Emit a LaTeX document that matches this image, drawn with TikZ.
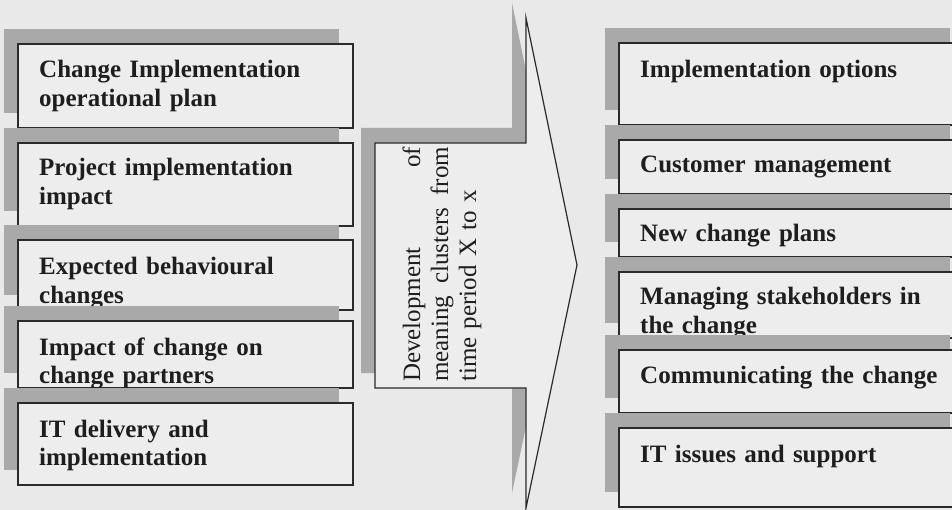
\documentclass[tikz,border=0pt]{standalone}
\usepackage{fontspec}
\setmainfont{Liberation Serif}
\definecolor{bgcol}{HTML}{E9E9E9}
\definecolor{boxcol}{HTML}{EDEDED}
\definecolor{shadecol}{HTML}{A9A9A9}
\definecolor{linecol}{HTML}{2A2A2A}
\definecolor{txtcol}{HTML}{1E1E1E}
\newcommand{\shbox}[5]{%
  \fill[shade] (#2-14,#3-15) rectangle ++(#4,#5);
  \node[cbox, minimum width=#4pt, minimum height=#5pt] (#1) at (#2,#3) {};
}
\newcommand{\jline}[1]{\leavevmode\hbox to 235pt{#1}}
\begin{document}
\begin{tikzpicture}[x=1pt,y=-1pt,
  cbox/.style={draw=linecol, line width=1.2pt, fill=boxcol, anchor=north west, inner sep=0pt, outer sep=0pt},
  shade/.style={fill=shadecol},
  lbl/.style={anchor=base west, inner sep=0pt, text width=320pt, align=left, text=txtcol,
    font=\fontsize{25}{28.5}\selectfont\bfseries},
  midtxt/.style={rotate=90, anchor=base west, inner sep=0pt, text width=240pt, align=left, text=txtcol,
    font=\fontsize{25}{28}\selectfont},
]
\clip (0,0) rectangle (952,510);
\fill[bgcol] (0,0) rectangle (952,510);

% left column
\shbox{L1}{18}{44}{335}{84}
\node[lbl] (L1t) at (39,78) {Change Implementation\\operational plan};
\shbox{L2}{18}{143}{335}{83}
\node[lbl] (L2t) at (39,176) {Project implementation\\impact};
\shbox{L3}{18}{240}{335}{70}
\node[lbl] (L3t) at (39,275) {Expected behavioural\\changes};
\shbox{L4}{18}{321}{335}{67}
\node[lbl] (L4t) at (39,355) {Impact of change on\\change partners};
\shbox{L5}{18}{403}{335}{82}
\node[lbl] (L5t) at (39,437) {IT delivery and\\implementation};

% middle arrow
\fill[shade] (361,128) -- (512,128) -- (512,3) -- (563,250) -- (512,493) -- (512,373) -- (361,373) -- cycle;
\draw[draw=linecol, line width=1.2pt, fill=boxcol, line join=miter]
  (375,143) -- (526,143) -- (526,18) -- (577,265) -- (526,508) -- (526,388) -- (375,388) -- cycle;
\node[midtxt] (mid) at (420,382) {\jline{Development\hfill of}\\\jline{meaning\hfill clusters\hfill from}\\time period X to x};

% right column
\shbox{R1}{619}{43}{345}{82}
\node[lbl] (R1t) at (640,78) {Implementation options};
\shbox{R2}{619}{140}{345}{54}
\node[lbl] (R2t) at (640,173) {Customer management};
\shbox{R3}{619}{209}{345}{48}
\node[lbl] (R3t) at (640,242) {New change plans};
\shbox{R4}{619}{272}{345}{66}
\node[lbl] (R4t) at (640,305) {Managing stakeholders in\\the change};
\shbox{R5}{619}{350}{345}{63}
\node[lbl] (R5t) at (640,383) {Communicating the change};
\shbox{R6}{619}{428}{345}{79}
\node[lbl] (R6t) at (640,462) {IT issues and support};
\end{tikzpicture}
\end{document}
